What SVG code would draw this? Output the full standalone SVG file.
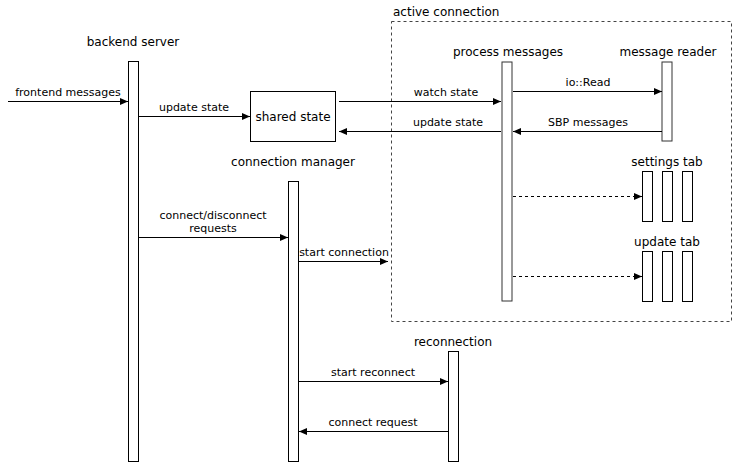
<svg xmlns="http://www.w3.org/2000/svg" width="734" height="464" viewBox="0 0 734 464">
<style>
text{font-family:"DejaVu Sans","Liberation Sans",sans-serif;fill:#000}
.t{font-size:12px;text-anchor:middle}
.l{font-size:11px;text-anchor:middle}
.life{fill:#fff;stroke:#000;stroke-width:1}
.g{stroke:#333}
.a{stroke:#000;stroke-width:1;fill:none;marker-end:url(#ah)}
.d{stroke-dasharray:3,3}
</style>
<defs>
<marker id="ah" viewBox="0 0 8 8" refX="8" refY="4" markerWidth="8" markerHeight="8" markerUnits="userSpaceOnUse" orient="auto">
<path d="M0,0.5 L8,4 L0,7.5 z" fill="#000"/>
</marker>
</defs>
<rect width="734" height="464" fill="#fff"/>
<g id="active-connection">
<rect x="391.5" y="21.5" width="340" height="300" fill="none" stroke="#444" stroke-dasharray="3,3"/>
<text x="393" y="16" style="font-size:12px">active connection</text>
</g>
<g id="backend-server">
<text class="t" x="133" y="46">backend server</text>
<rect class="life" x="128.5" y="61.5" width="10" height="400"/>
</g>
<g id="shared-state">
<rect x="250.5" y="91.5" width="85" height="50" fill="#fff" stroke="#000"/>
<text class="t" x="293" y="121">shared state</text>
</g>
<g id="process-messages">
<text class="t" x="508" y="56">process messages</text>
<rect class="life g" x="502" y="62" width="10" height="239"/>
</g>
<g id="message-reader">
<text class="t" x="668" y="56">message reader</text>
<rect class="life g" x="662" y="62" width="10" height="79"/>
</g>
<g id="settings-tab">
<text class="t" x="667" y="166">settings tab</text>
<rect class="life" x="642.5" y="171.5" width="10" height="50"/>
<rect class="life" x="662.5" y="171.5" width="10" height="50"/>
<rect class="life" x="682.5" y="171.5" width="10" height="50"/>
</g>
<g id="update-tab">
<text class="t" x="667" y="246">update tab</text>
<rect class="life" x="642.5" y="251.5" width="10" height="50"/>
<rect class="life" x="662.5" y="251.5" width="10" height="50"/>
<rect class="life" x="682.5" y="251.5" width="10" height="50"/>
</g>
<g id="connection-manager">
<text class="t" x="293" y="166">connection manager</text>
<rect class="life" x="288.5" y="181.5" width="10" height="280"/>
</g>
<g id="reconnection">
<text class="t" x="453" y="346">reconnection</text>
<rect class="life" x="448.5" y="351.5" width="10" height="110"/>
</g>
<g id="connectors">
<line class="a" x1="8" y1="101.5" x2="128" y2="101.5"/>
<text class="l" x="68" y="96">frontend messages</text>
<line class="a" x1="139" y1="116.5" x2="250" y2="116.5"/>
<text class="l" x="194" y="111">update state</text>
<line class="a" x1="339" y1="101.5" x2="501" y2="101.5"/>
<text class="l" x="446" y="96">watch state</text>
<line class="a" x1="501" y1="131.5" x2="339" y2="131.5"/>
<text class="l" x="448" y="126">update state</text>
<line class="a" x1="513" y1="91.5" x2="662" y2="91.5"/>
<text class="l" x="588" y="86">io::Read</text>
<line class="a" x1="662" y1="131.5" x2="513" y2="131.5"/>
<text class="l" x="588" y="126">SBP messages</text>
<line class="a d" x1="513" y1="196.5" x2="642" y2="196.5"/>
<line class="a d" x1="513" y1="276.5" x2="642" y2="276.5"/>
<line class="a" x1="139" y1="237.5" x2="288" y2="237.5"/>
<text class="l" x="213" y="219">connect/disconnect</text>
<text class="l" x="213" y="232">requests</text>
<line class="a" x1="299" y1="261.5" x2="388" y2="261.5"/>
<text class="l" x="344" y="256">start connection</text>
<line class="a" x1="299" y1="381.5" x2="448" y2="381.5"/>
<text class="l" x="373" y="376">start reconnect</text>
<line class="a" x1="448" y1="431.5" x2="299" y2="431.5"/>
<text class="l" x="373" y="426">connect request</text>
</g>
</svg>
